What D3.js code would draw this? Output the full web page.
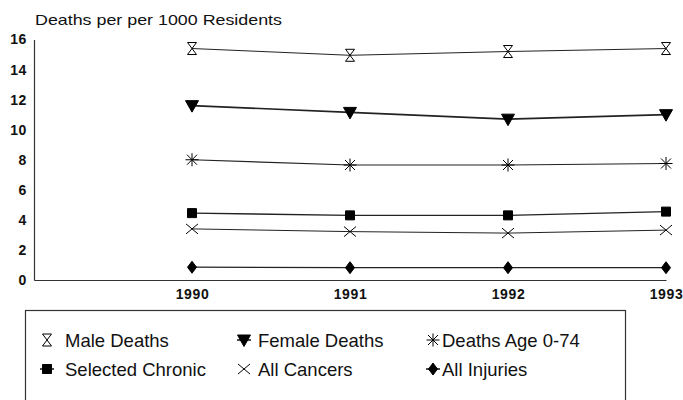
<!DOCTYPE html>
<html>
<head>
<meta charset="utf-8">
<script src="https://cdn.jsdelivr.net/npm/d3@7"></script>
<style>
  body { margin: 0; background: #fff; }
  text { font-family: "Liberation Sans", Arial, sans-serif; fill: #111; }
</style>
</head>
<body>
<div id="chartDiv"></div>
<script>
// data
const years = [1990, 1991, 1992, 1993];
const maleDeaths = [15.4, 14.95, 15.2, 15.4];
const femaleDeaths = [11.6, 11.15, 10.7, 11.0];
const deathsAge074 = [8.0, 7.65, 7.65, 7.75];
const selectedChronic = [4.45, 4.3, 4.3, 4.55];
const allCancers = [3.4, 3.22, 3.12, 3.32];
const allInjuries = [0.85, 0.82, 0.82, 0.82];
const yTicks = [0, 2, 4, 6, 8, 10, 12, 14, 16];
const seriesNames = ["Male Deaths", "Female Deaths", "Deaths Age 0-74", "Selected Chronic", "All Cancers", "All Injuries"];
const seriesValues = [maleDeaths, femaleDeaths, deathsAge074, selectedChronic, allCancers, allInjuries];

const width = 683, height = 400;

let svgObj = d3.select('#chartDiv').append('svg')
    .attr('width', width)
    .attr('height', height);

const xScale = d3.scaleLinear().domain([1989, 1993]).range([34, 666]);
const yScale = d3.scaleLinear().domain([0, 16]).range([280, 39.5]);

// marker shapes
const markerPaths = {
    "Male Deaths": 'M-4.5,-6L4.5,-6L-4.5,6L4.5,6Z',
    "Female Deaths": 'M-6.5,-5L6.5,-5L0,6.5Z',
    "Deaths Age 0-74": 'M0,-6.5V6.5M-6.5,0H6.5M-5,-5L5,5M-5,5L5,-5',
    "Selected Chronic": 'M-4.5,-4.5H4.5V4.5H-4.5Z',
    "All Cancers": 'M-6,-5L6,5M-6,5L6,-5',
    "All Injuries": 'M0,-6L4.5,0L0,6L-4.5,0Z'
};
const markerFill = {
    "Male Deaths": '#fff',
    "Female Deaths": '#000',
    "Deaths Age 0-74": 'none',
    "Selected Chronic": '#000',
    "All Cancers": 'none',
    "All Injuries": '#000'
};
const lineWidth = {
    "Male Deaths": 1,
    "Female Deaths": 1.6,
    "Deaths Age 0-74": 1.2,
    "Selected Chronic": 1.4,
    "All Cancers": 1,
    "All Injuries": 1.2
};

// title
svgObj.append('text')
    .attr('x', 35)
    .attr('y', 25)
    .attr('font-size', 15)
    .attr('textLength', 247)
    .attr('lengthAdjust', 'spacingAndGlyphs')
    .text('Deaths per per 1000 Residents');

// axes
const yAxis = d3.axisLeft(yScale).tickValues(yTicks).tickSize(0).tickPadding(7);
const xAxis = d3.axisBottom(xScale).tickValues(years).tickFormat(d3.format('d')).tickSize(0).tickPadding(9);

let gy = svgObj.append('g').attr('transform', 'translate(34,0)').call(yAxis);
let gx = svgObj.append('g').attr('transform', 'translate(0,280)').call(xAxis);

[gy, gx].forEach(g => {
    g.select('.domain').attr('stroke', '#333').attr('stroke-width', 1.2);
    g.selectAll('text')
        .attr('font-family', '"Liberation Sans", Arial, sans-serif')
        .attr('font-size', 14)
        .attr('font-weight', 'bold')
        .attr('letter-spacing', 0.6)
        .attr('fill', '#111');
});

// lines + markers
const lineGen = d3.line()
    .x((d, i) => xScale(years[i]))
    .y(d => yScale(d));

seriesNames.forEach((name, s) => {
    const vals = seriesValues[s];
    svgObj.append('path')
        .datum(vals)
        .attr('d', lineGen)
        .attr('fill', 'none')
        .attr('stroke', '#222')
        .attr('stroke-width', lineWidth[name]);

    svgObj.selectAll('.mk' + s)
        .data(vals)
        .enter().append('path')
        .attr('class', 'mk' + s)
        .attr('transform', (d, i) => `translate(${xScale(years[i])},${yScale(d)})`)
        .attr('d', markerPaths[name])
        .attr('fill', markerFill[name])
        .attr('stroke', '#000')
        .attr('stroke-width', 1);
});

// legend
svgObj.append('rect')
    .attr('x', 25.5).attr('y', 310.5)
    .attr('width', 600).attr('height', 120)
    .attr('fill', 'none')
    .attr('stroke', '#333')
    .attr('stroke-width', 1.2);

const legendCols = [47, 244, 433];
const legendTextX = [65, 258, 442];
const legendRows = [340, 369];
const legendLine = { "Female Deaths": true, "Selected Chronic": true, "All Injuries": true };

seriesNames.forEach((name, i) => {
    const col = i % 3, row = Math.floor(i / 3);
    const cx = legendCols[col], cy = legendRows[row];
    if (legendLine[name]) {
        svgObj.append('line')
            .attr('x1', cx - 7).attr('x2', cx + 7)
            .attr('y1', cy).attr('y2', cy)
            .attr('stroke', '#000').attr('stroke-width', 1.4);
    }
    svgObj.append('path')
        .attr('transform', `translate(${cx},${cy})`)
        .attr('d', markerPaths[name])
        .attr('fill', markerFill[name])
        .attr('stroke', '#000')
        .attr('stroke-width', 1);
    svgObj.append('text')
        .attr('x', legendTextX[col])
        .attr('y', cy + 7)
        .attr('font-size', 18.5)
        .text(name);
});
</script>
</body>
</html>
